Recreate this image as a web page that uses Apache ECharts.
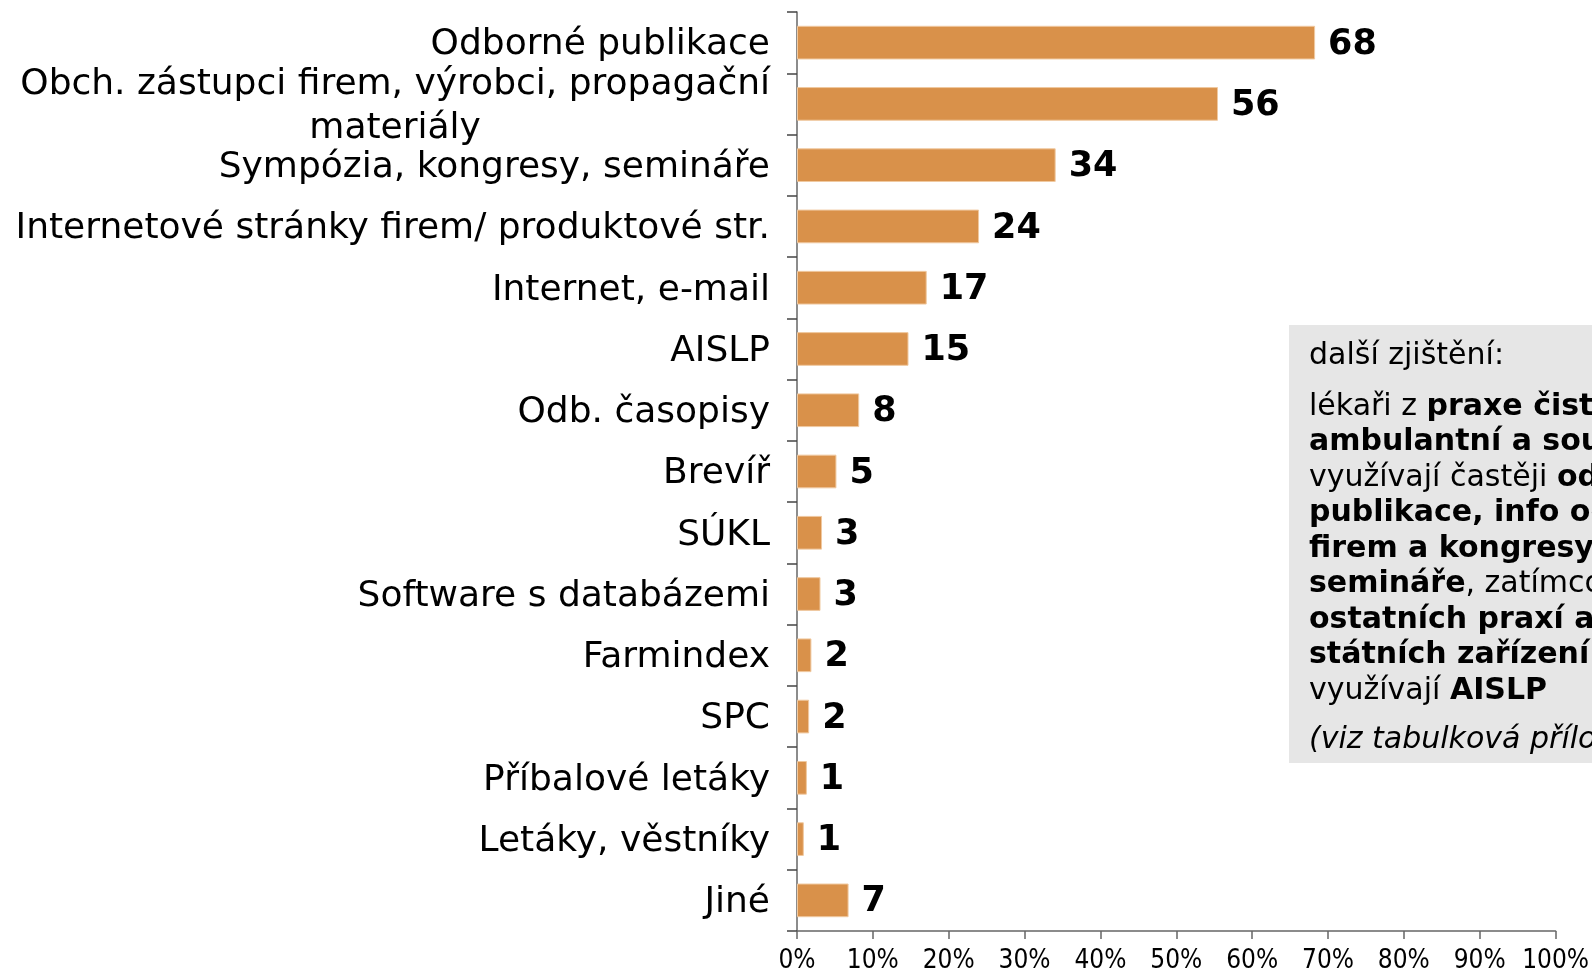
<!DOCTYPE html>
<html>
<head>
    <title></title>
    <meta charset="UTF-8">
    <script type="text/javascript" src="https://cdn.jsdelivr.net/npm/echarts@6/dist/echarts.min.js"></script>
    <style type="text/css">
        body { margin: 0; background: #fff; }
        #chart { width: 1592px; height: 974px; }
    </style>
</head>
<body>
<div id="chart"></div>

<script type="text/javascript">
    var categories = [
        'Odborné publikace',
        'Obch. zástupci firem, výrobci, propagační\nmateriály',
        'Sympózia, kongresy, semináře',
        'Internetové stránky firem/ produktové str.',
        'Internet, e-mail',
        'AISLP',
        'Odb. časopisy',
        'Brevíř',
        'SÚKL',
        'Software s databázemi',
        'Farmindex',
        'SPC',
        'Příbalové letáky',
        'Letáky, věstníky',
        'Jiné'
    ];
    // bar lengths (percent)
    var values = [68.3, 55.5, 34.1, 24.0, 17.1, 14.7, 8.2, 5.2, 3.3, 3.1, 1.9, 1.6, 1.3, 0.9, 6.8];
    // printed labels
    var valueLabels = [68, 56, 34, 24, 17, 15, 8, 5, 3, 3, 2, 2, 1, 1, 7];
    var xTicks = [0, 10, 20, 30, 40, 50, 60, 70, 80, 90, 100];

    var noteHead = 'další zjištění:';
    var noteLines = [
        '{n|lékaři z }{b|praxe čistě}',
        '{b|ambulantní a soukromé}',
        '{n|využívají častěji }{b|odborné}',
        '{b|publikace, info od}',
        '{b|firem a kongresy a}',
        '{b|semináře}{n|, zatímco z}',
        '{b|ostatních praxí a}',
        '{b|státních zařízení}',
        '{n|využívají }{b|AISLP}'
    ];
    var noteFoot = '(viz tabulková příloha)';

    var font = 'DejaVu Sans';
    var myChart = echarts.init(document.getElementById('chart'));

    myChart.setOption({
        animation: false,
        grid: { left: 797, right: 35, top: 12, bottom: 36 },
        xAxis: {
            type: 'value',
            min: 0,
            max: 100,
            interval: 10,
            axisLine: { show: true, lineStyle: { color: '#666', width: 1.5 } },
            axisTick: { show: true, length: 8, lineStyle: { color: '#666', width: 1.5 } },
            splitLine: { show: false },
            axisLabel: {
                margin: 17,
                color: '#000',
                fontFamily: 'DejaVu Sans Condensed',
                fontSize: 26,
                formatter: function (v) { return xTicks.indexOf(v) >= 0 ? v + '%' : ''; }
            }
        },
        yAxis: {
            type: 'category',
            inverse: true,
            data: categories,
            axisLine: { show: true, lineStyle: { color: '#666', width: 1.5 } },
            axisTick: { show: true, length: 10, alignWithLabel: false, lineStyle: { color: '#444', width: 1.5 } },
            axisLabel: {
                interval: 0,
                margin: 27,
                padding: [5, 0, 0, 0],
                color: '#000',
                fontFamily: font,
                fontSize: 36,
                lineHeight: 44,
                formatter: function (v) {
                    var parts = v.split('\n');
                    if (parts.length === 1) return '{a|' + v + '}';
                    return '{a|' + parts[0] + '}\n{c|' + parts[1] + '}';
                },
                rich: {
                    a: { fontFamily: font, fontSize: 36, color: '#000', lineHeight: 44 },
                    c: { fontFamily: font, fontSize: 36, color: '#000', lineHeight: 44, align: 'center' }
                }
            }
        },
        series: [{
            type: 'bar',
            data: values,
            barCategoryGap: '45%',
            itemStyle: { color: '#D9914A', borderColor: '#F0C9A0', borderWidth: 1 },
            label: {
                show: true,
                position: 'right',
                distance: 13,
                offset: [0, 2],
                color: '#000',
                fontFamily: font,
                fontWeight: 'bold',
                fontSize: 35,
                formatter: function (p) { return valueLabels[p.dataIndex]; }
            }
        }],
        graphic: [{
            type: 'group',
            left: 1289,
            top: 325,
            children: [{
                type: 'rect',
                shape: { x: 0, y: 0, width: 320, height: 438 },
                style: { fill: '#E6E6E6' }
            }, {
                type: 'text',
                x: 20,
                y: 31,
                style: {
                    text: noteHead,
                    fill: '#000',
                    font: '30px "DejaVu Sans"',
                    verticalAlign: 'middle'
                }
            }, {
                type: 'text',
                x: 20,
                y: 64,
                style: {
                    text: noteLines.join('\n'),
                    fill: '#000',
                    verticalAlign: 'top',
                    rich: {
                        n: { fontFamily: font, fontSize: 30, lineHeight: 35.5, fill: '#000' },
                        b: { fontFamily: font, fontSize: 30, fontWeight: 'bold', lineHeight: 35.5, fill: '#000' }
                    }
                }
            }, {
                type: 'text',
                x: 20,
                y: 415,
                style: {
                    text: noteFoot,
                    fill: '#000',
                    font: 'italic 30px "DejaVu Sans"',
                    verticalAlign: 'middle'
                }
            }]
        }]
    });
</script>
</body>
</html>
